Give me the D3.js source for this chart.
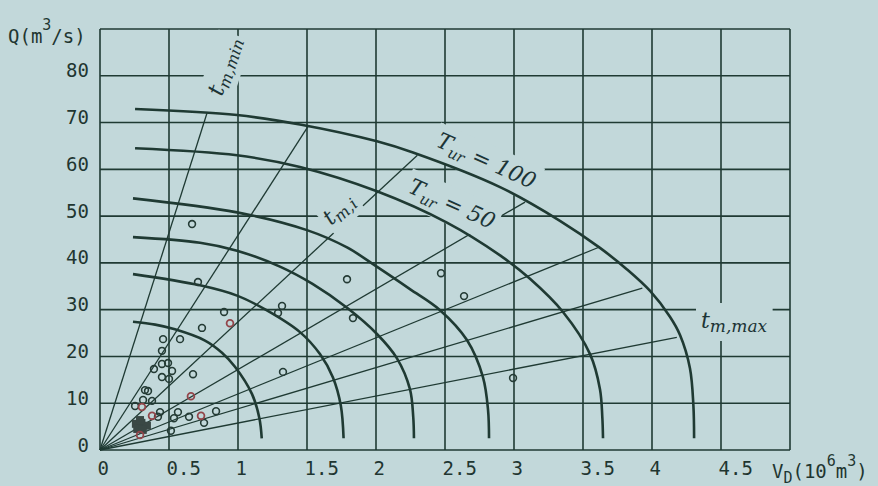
<!DOCTYPE html>
<html>
<head>
<meta charset="utf-8">
<script src="https://cdn.jsdelivr.net/npm/d3@7"></script>
<style>
html, body { margin: 0; padding: 0; background: #c2d8da; }
svg { display: block; }
.tick-label { font-family: "DejaVu Sans Mono", monospace; font-size: 19px; fill: #1f3631; }
.title { font-family: "DejaVu Sans Mono", monospace; font-size: 19px; fill: #1f3631; }
.tag { font-family: "DejaVu Serif", serif; font-style: italic; fill: #1c3436; }
</style>
</head>
<body>
<svg id="chart" width="878" height="486"></svg>
<script>
// grid / ticks
const xGrid = [0, 0.5, 1, 1.5, 2, 2.5, 3, 3.5, 4, 4.5, 5];
const yGrid = [0, 10, 20, 30, 40, 50, 60, 70, 80, 90];
const xLabels = ["0", "0.5", "1", "1.5", "2", "2.5", "3", "3.5", "4", "4.5"];
const yLabels = ["0", "10", "20", "30", "40", "50", "60", "70", "80"];

// return period curves, [V (10^6 m3), Q (m3/s)], inner -> outer
const curve1 = [[0.239, 27.4], [0.40, 26.8], [0.543, 25.8], [0.761, 23.4], [0.884, 20.8], [0.978, 17.8], [1.101, 12.0], [1.155, 6.8], [1.172, 2.5]];
const curve2 = [[0.239, 37.6], [0.725, 35.2], [0.993, 33.0], [1.20, 30.0], [1.449, 25.2], [1.594, 20.5], [1.688, 15.5], [1.745, 9.5], [1.765, 2.5]];
const curve3 = [[0.239, 45.5], [0.725, 44.3], [0.993, 42.6], [1.304, 39.2], [1.54, 35.5], [1.790, 30.4], [2.007, 24.8], [2.152, 19.6], [2.246, 13.0], [2.270, 7.0], [2.275, 2.5]];
const curve4 = [[0.239, 53.8], [0.993, 50.8], [1.50, 47.0], [1.79, 43.3], [2.00, 39.3], [2.246, 34.4], [2.46, 30.0], [2.659, 23.5], [2.775, 15.6], [2.812, 8.5], [2.819, 2.5]];
const curve5 = [[0.254, 64.5], [0.993, 63.0], [1.449, 60.5], [2.007, 55.3], [2.514, 48.6], [2.899, 41.6], [3.116, 36.6], [3.355, 29.5], [3.551, 20.5], [3.623, 13.0], [3.640, 7.0], [3.645, 2.5]];
const curve6 = [[0.254, 72.9], [0.993, 71.6], [1.449, 69.6], [2.007, 66.0], [2.268, 63.6], [2.899, 56.2], [3.333, 49.0], [3.623, 43.2], [3.819, 38.6], [3.986, 34.0], [4.130, 28.5], [4.203, 24.6], [4.275, 17.5], [4.300, 9.5], [4.305, 2.5]];
const curves = [curve1, curve2, curve3, curve4, curve5, curve6];

// t_m rays from the origin, end points [V, Q]
const rayEnds = [[0.775, 72.0], [1.51, 69.3], [2.30, 63.0], [3.08, 53.0], [3.62, 43.4], [3.93, 34.6], [4.18, 24.1]];

// observed floods [V, Q]
const obsBlack = [
  [0.667, 48.3], [0.710, 35.9], [0.899, 29.5], [0.739, 26.1], [0.457, 23.7], [0.580, 23.7],
  [0.449, 21.2], [0.391, 17.3], [0.449, 18.4], [0.493, 18.6], [0.522, 16.9], [0.449, 15.6],
  [0.500, 15.2], [0.674, 16.2], [0.326, 12.8], [0.348, 12.6], [1.326, 16.7], [1.319, 30.8],
  [1.290, 29.3], [0.254, 9.4], [0.312, 10.7], [0.377, 10.5], [0.435, 8.1], [0.420, 7.1],
  [0.565, 8.1], [0.536, 6.8], [0.645, 7.1], [0.754, 5.8], [0.841, 8.3], [0.514, 4.1],
  [1.790, 36.5], [1.833, 28.2], [2.471, 37.8], [2.638, 32.9], [2.993, 15.4]
];
const obsRed = [[0.942, 27.1], [0.659, 11.5], [0.304, 9.2], [0.377, 7.3], [0.732, 7.3], [0.290, 3.2]];
const obsFilled = [[0.26, 5.6], [0.30, 5.8], [0.34, 5.2], [0.27, 4.5], [0.31, 4.3], [0.29, 6.4]];

const ink = "#1f3a33";
const bg = "#c2d8da";

const svg = d3.select("#chart");

const x = d3.scaleLinear().domain([0, 5]).range([100, 790]);
const y = d3.scaleLinear().domain([0, 90]).range([450, 29]);

// grid
const grid = svg.append("g").attr("stroke", ink).attr("stroke-width", 1.6);
grid.selectAll(".vline")
    .data(xGrid)
    .join("line")
    .attr("x1", d => x(d)).attr("x2", d => x(d))
    .attr("y1", y(90)).attr("y2", y(0));
grid.selectAll(".hline")
    .data(yGrid)
    .join("line")
    .attr("x1", x(0)).attr("x2", x(5))
    .attr("y1", d => y(d)).attr("y2", d => y(d));

// rays
svg.append("g")
    .selectAll("line")
    .data(rayEnds)
    .join("line")
    .attr("x1", x(0)).attr("y1", y(0))
    .attr("x2", d => x(d[0])).attr("y2", d => y(d[1]))
    .attr("stroke", ink)
    .attr("stroke-width", 1.3);

// labels with a paper-coloured patch behind them (the grid is broken there)
const tags = svg.append("g");
function tag(px, py, angle, parts, pad) {
    const g = tags.append("g").attr("transform", `translate(${px},${py}) rotate(${angle})`);
    const patch = g.append("rect").attr("fill", bg);
    const t = g.append("text").attr("class", "tag");
    parts.forEach(p => {
        t.append("tspan").attr("font-size", p.size).attr("dy", p.dy || 0).text(p.text);
    });
    const b = t.node().getBBox();
    patch.attr("x", b.x - pad).attr("y", b.y - pad)
        .attr("width", b.width + 2 * pad).attr("height", b.height + 2 * pad);
}

tag(222, 97, -72, [{ text: "t", size: 23 }, { text: "m,min", size: 16, dy: 4 }], 3);
tag(331, 226, -43, [{ text: "t", size: 22 }, { text: "m,i", size: 16, dy: 4 }], 3);
tag(701, 328, 0, [{ text: "t", size: 22 }, { text: "m,max", size: 17, dy: 4 }], 5);
tag(435, 146, 24, [{ text: "T", size: 22 }, { text: "ur", size: 15, dy: 5 }, { text: " = 100", size: 22, dy: -5 }], 4);
tag(407, 192, 24, [{ text: "T", size: 22 }, { text: "ur", size: 15, dy: 5 }, { text: " = 50", size: 22, dy: -5 }], 4);

// return period curves
const line = d3.line()
    .x(d => x(d[0]))
    .y(d => y(d[1]))
    .curve(d3.curveCatmullRom.alpha(0.5));

svg.append("g")
    .selectAll("path")
    .data(curves)
    .join("path")
    .attr("d", line)
    .attr("fill", "none")
    .attr("stroke", ink)
    .attr("stroke-width", 2.6);

// observations
svg.append("g")
    .selectAll("rect")
    .data(obsFilled)
    .join("rect")
    .attr("x", d => x(d[0]) - 4).attr("y", d => y(d[1]) - 4)
    .attr("width", 8).attr("height", 8)
    .attr("fill", "#3a4845");

svg.append("g")
    .selectAll("circle")
    .data(obsBlack)
    .join("circle")
    .attr("cx", d => x(d[0])).attr("cy", d => y(d[1]))
    .attr("r", 3.4)
    .attr("fill", "none")
    .attr("stroke", "#243b35")
    .attr("stroke-width", 1.6);

svg.append("g")
    .selectAll("circle")
    .data(obsRed)
    .join("circle")
    .attr("cx", d => x(d[0])).attr("cy", d => y(d[1]))
    .attr("r", 3.4)
    .attr("fill", "none")
    .attr("stroke", "#93454a")
    .attr("stroke-width", 1.8);

// tick labels
svg.append("g")
    .attr("transform", `translate(0,${y(0)})`)
    .call(d3.axisBottom(x).tickValues(xGrid.slice(0, 10)).tickFormat((d, i) => xLabels[i]).tickSize(0))
    .call(g => g.select(".domain").remove())
    .selectAll("text")
    .attr("class", "tick-label")
    .attr("text-anchor", "start")
    .attr("dy", null)
    .attr("x", -3)
    .attr("y", 25);

svg.append("g")
    .attr("transform", `translate(${x(0)},0)`)
    .call(d3.axisLeft(y).tickValues(yGrid.slice(0, 9)).tickFormat((d, i) => yLabels[i]).tickSize(0))
    .call(g => g.select(".domain").remove())
    .selectAll("text")
    .attr("class", "tick-label")
    .attr("text-anchor", "end")
    .attr("dy", null)
    .attr("x", -11)
    .attr("y", 1);

// axis titles
const qTitle = svg.append("text").attr("class", "title").attr("x", 8).attr("y", 43);
qTitle.append("tspan").text("Q(m");
qTitle.append("tspan").attr("font-size", 15).attr("dy", -13).text("3");
qTitle.append("tspan").attr("dy", 13).text("/s)");

const vTitle = svg.append("text").attr("class", "title").attr("x", 772).attr("y", 478);
vTitle.append("tspan").text("V");
vTitle.append("tspan").attr("font-size", 15).attr("dy", 5).text("D");
vTitle.append("tspan").attr("dy", -5).text("(10");
vTitle.append("tspan").attr("font-size", 15).attr("dy", -12).text("6");
vTitle.append("tspan").attr("dy", 12).text("m");
vTitle.append("tspan").attr("font-size", 15).attr("dy", -12).text("3");
vTitle.append("tspan").attr("dy", 12).text(")");
</script>
</body>
</html>
